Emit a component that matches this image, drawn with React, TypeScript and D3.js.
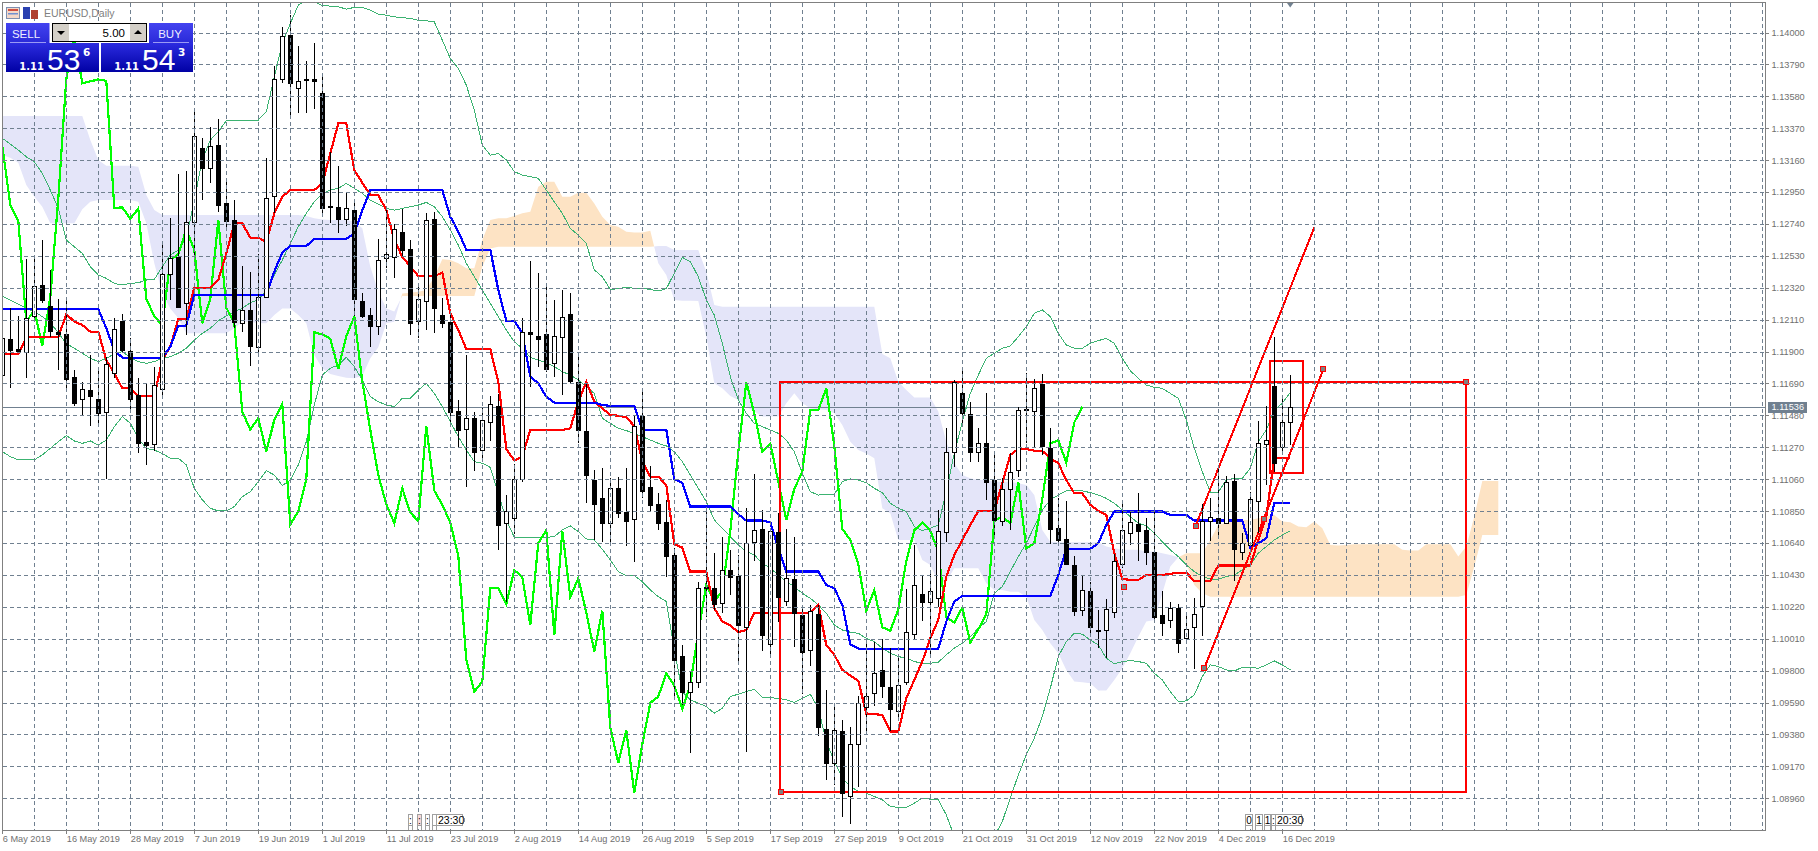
import * as d3 from "d3"
import { useEffect, useRef } from "react"

// all quotes are in points: 111536 means 1.11536
const symbolTitle = "EURUSD,Daily"
const dateLabels = ["6 May 2019", "16 May 2019", "28 May 2019", "7 Jun 2019", "19 Jun 2019", "1 Jul 2019", "11 Jul 2019", "23 Jul 2019", "2 Aug 2019", "14 Aug 2019", "26 Aug 2019", "5 Sep 2019", "17 Sep 2019", "27 Sep 2019", "9 Oct 2019", "21 Oct 2019", "31 Oct 2019", "12 Nov 2019", "22 Nov 2019", "4 Dec 2019", "16 Dec 2019"]
const dateBars = [0, 8, 16, 24, 32, 40, 48, 56, 64, 72, 80, 88, 96, 104, 112, 120, 128, 136, 144, 152, 160]
const priceTicks = [114000, 113790, 113580, 113370, 113160, 112950, 112740, 112530, 112320, 112110, 111900, 111690, 111480, 111270, 111060, 110850, 110640, 110430, 110220, 110010, 109800, 109590, 109380, 109170, 108960]
const lastPrice = 111536

const opens = [
  111746, 111983, 111915, 111900, 112137, 112338, 112200, 112027, 112013, 111731,
  111590, 111645, 111586, 111505, 111757, 112101, 111904, 111614, 111307, 111290,
  111652, 112408, 112524, 112217, 112750, 113237, 113110, 113259, 112877, 112766,
  112090, 112173, 111932, 112261, 112926, 113695, 113983, 113636, 113691, 113693,
  113599, 112856, 112851, 112770, 112831, 112233, 112140, 112070, 112518, 112525,
  112687, 112573, 112104, 112235, 112772, 112140, 112095, 111509, 111388, 111465,
  111255, 111439, 111542, 110774, 110803, 111060, 112027, 112000, 112013, 111823,
  111994, 112147, 111700, 111378, 111055, 110935, 110770, 111000, 110842, 110796,
  111476, 111007, 110895, 110776, 110561, 109897, 109662, 109728, 110349, 110342,
  110248, 110463, 110423, 110090, 110649, 110733, 109978, 110715, 110261, 110404,
  110167, 109935, 110173, 109417, 109191, 109404, 108972, 109316, 109559, 109652,
  109805, 109694, 109535, 109728, 110044, 110305, 110250, 110277, 110711, 111237,
  111625, 111487, 111241, 111296, 111055, 110788, 110994, 111118, 111523, 111511,
  111687, 111264, 110737, 110665, 110496, 110198, 110325, 110068, 110066, 110189,
  110501, 110704, 110763, 110726, 110583, 110167, 110132, 110213, 110013, 110086,
  110228, 110788, 110803, 110770, 111049, 110584, 110630, 110919, 111294, 111674,
  111274, 111434,
]
const closes = [
  111987, 111911, 111904, 112119, 112331, 112239, 112037, 112013, 111722, 111564,
  111652, 111610, 111498, 111816, 112046, 111911, 111588, 111301, 111285, 111680,
  112408, 112513, 112195, 112750, 113318, 113110, 113252, 112866, 112761, 112097,
  112173, 111937, 112257, 112908, 113693, 113976, 113665, 113678, 113691, 113682,
  112845, 112849, 112774, 112842, 112246, 112134, 112070, 112502, 112540, 112704,
  112568, 112086, 112244, 112766, 112189, 112086, 111505, 111386, 111463, 111241,
  111450, 111555, 110761, 110849, 111060, 112027, 112013, 111985, 111785, 112002,
  112130, 111706, 111384, 111088, 110895, 110770, 111000, 110840, 110785, 111410,
  110985, 110891, 110774, 110557, 109870, 109662, 109728, 110342, 110342, 110239,
  110461, 110417, 110101, 110639, 110724, 110035, 110720, 110285, 110408, 110182,
  109926, 110195, 109426, 109193, 109408, 108994, 109316, 109588, 109630, 109783,
  109702, 109548, 109707, 110053, 110362, 110255, 110325, 110718, 111241, 111698,
  111494, 111241, 111296, 111044, 110792, 110996, 111110, 111516, 111516, 111658,
  111281, 110733, 110661, 110501, 110195, 110329, 110086, 110062, 110204, 110522,
  110724, 110776, 110722, 110583, 110153, 110116, 110215, 109985, 110072, 110171,
  110785, 110814, 110770, 111040, 110604, 110639, 110928, 111296, 111316, 111169,
  111434, 111536,
]
const highs = [
  111987, 112184, 112134, 112507, 112535, 112634, 112437, 112246, 112239, 111779,
  111702, 111877, 111801, 111866, 112119, 112147, 111987, 111724, 111691, 111801,
  112623, 112776, 113068, 113088, 113478, 113303, 113380, 113430, 113036, 112897,
  112463, 112426, 112540, 113172, 113781, 114038, 114114, 113910, 113811, 113932,
  113708, 113215, 113123, 112952, 112875, 112283, 112184, 112640, 112853, 112739,
  112838, 112634, 112334, 112810, 112821, 112250, 112152, 111581, 111877, 111505,
  111527, 111608, 111618, 110956, 111160, 112119, 112496, 112415, 112353, 112239,
  112305, 112283, 111899, 111691, 111121, 111132, 111071, 111077, 111132, 111483,
  111636, 111150, 110972, 110924, 110605, 109970, 109794, 110382, 110851, 110573,
  110678, 110594, 110561, 110869, 111092, 110858, 110726, 110836, 110733, 110678,
  110233, 110233, 110233, 109673, 109586, 109476, 109432, 109636, 109996, 109991,
  110007, 109952, 109893, 110338, 110627, 110430, 110463, 110858, 111395, 111713,
  111790, 111566, 111395, 111625, 111231, 111066, 111231, 111533, 111757, 111720,
  111753, 111400, 110934, 110917, 110555, 110430, 110386, 110200, 110272, 110566,
  110895, 110851, 110968, 110807, 110880, 110325, 110255, 110237, 110178, 110281,
  110897, 110939, 111154, 111081, 111095, 110704, 110974, 111443, 111542, 111994,
  111585, 111746,
]
const lows = [
  111669, 111663, 111888, 111728, 112097, 112222, 111998, 111779, 111658, 111542,
  111483, 111411, 111428, 111062, 111724, 111888, 111516, 111235, 111154, 111248,
  111592, 112239, 112190, 112009, 112513, 112897, 113007, 112820, 112700, 112053,
  112031, 111805, 111862, 112257, 112810, 113665, 113434, 113467, 113467, 113496,
  112803, 112744, 112682, 112726, 112134, 112119, 111932, 112009, 112448, 112382,
  112524, 112009, 111987, 112042, 112024, 112053, 111439, 111268, 111011, 111114,
  111176, 111314, 110595, 110255, 110698, 111044, 111670, 111801, 111768, 111735,
  111614, 111691, 111296, 110902, 110660, 110650, 110645, 110803, 110623, 110513,
  110939, 110851, 110726, 110419, 109614, 109575, 109261, 109684, 110156, 110200,
  110178, 110299, 109842, 109267, 110522, 109930, 109893, 110123, 110226, 109958,
  109645, 109833, 109373, 109081, 109048, 108840, 108790, 109037, 109406, 109570,
  109618, 109404, 109487, 109707, 110002, 110127, 109904, 110222, 110650, 111143,
  111428, 111176, 111176, 110924, 110682, 110755, 110726, 111077, 111296, 111274,
  111220, 110632, 110632, 110496, 110162, 110162, 110020, 109952, 109886, 110145,
  110478, 110627, 110522, 110496, 110123, 110031, 110079, 109919, 109996, 109809,
  110025, 110656, 110665, 110766, 110393, 110529, 110628, 110704, 111022, 111110,
  111219, 111285,
]

// ichimoku
const tenkan = [
  111884, 111884, 111884, 111994, 111994, 111994, 111994, 111994, 112147, 112097,
  112075, 112031, 112031, 111845, 111757, 111658, 111658, 111608, 111608, 111608,
  111845, 111932, 112114, 112114, 112320, 112320, 112320, 112371, 112546, 112744,
  112744, 112650, 112650, 112623, 112810, 112919, 112963, 112963, 112963, 112963,
  113007, 113204, 113402, 113402, 113094, 113011, 112930, 112930, 112831, 112634,
  112524, 112459, 112397, 112397, 112397, 112419, 112152, 112042, 111917, 111917,
  111917, 111917, 111702, 111259, 111183, 111209, 111384, 111384, 111384, 111384,
  111384, 111395, 111570, 111702, 111570, 111527, 111483, 111478, 111467, 111410,
  111176, 111077, 111077, 111022, 110634, 110610, 110452, 110452, 110452, 110211,
  110123, 110097, 110053, 110068, 110180, 110180, 110180, 110180, 110180, 110180,
  110180, 110180, 110233, 109970, 109904, 109805, 109768, 109733, 109518, 109514,
  109509, 109400, 109400, 109619, 109739, 109860, 110013, 110134, 110419, 110561,
  110660, 110759, 110851, 110851, 110851, 111033, 111220, 111259, 111259, 111248,
  111246, 111198, 111165, 111055, 110967, 110967, 110891, 110851, 110825, 110573,
  110404, 110397, 110397, 110430, 110430, 110430, 110437, 110445, 110445, 110390,
  110390, 110390, 110492, 110492, 110492, 110492, 110492, 110660, 110814, 111202,
  111202, 111202,
]
const kijun = [
  112180, 112180, 112180, 112180, 112180, 112180, 112180, 112180, 112180, 112180,
  112180, 112180, 112180, 112053, 111910, 111860, 111860, 111860, 111860, 111860,
  111860, 111932, 112071, 112071, 112272, 112272, 112272, 112272, 112272, 112272,
  112272, 112272, 112272, 112272, 112426, 112553, 112594, 112594, 112594, 112643,
  112643, 112643, 112643, 112643, 112678, 112831, 112963, 112963, 112963, 112963,
  112963, 112963, 112963, 112963, 112963, 112963, 112788, 112689, 112570, 112570,
  112570, 112570, 112305, 112103, 112103, 112020, 111735, 111691, 111603, 111564,
  111564, 111564, 111564, 111564, 111564, 111549, 111542, 111542, 111542, 111542,
  111386, 111386, 111386, 111386, 111059, 111037, 110880, 110880, 110880, 110880,
  110880, 110880, 110829, 110788, 110788, 110788, 110777, 110606, 110452, 110452,
  110452, 110452, 110452, 110364, 110342, 110233, 109974, 109945, 109945, 109945,
  109945, 109945, 109945, 109945, 109945, 109945, 109945, 109945, 110123, 110255,
  110292, 110292, 110292, 110292, 110292, 110292, 110292, 110292, 110292, 110292,
  110292, 110292, 110430, 110601, 110601, 110601, 110601, 110639, 110759, 110847,
  110847, 110847, 110847, 110847, 110847, 110847, 110825, 110825, 110825, 110788,
  110788, 110788, 110788, 110788, 110788, 110788, 110610, 110639, 110671, 110906,
  110906, 110906,
]
const chikou = [
  113252, 112866, 112761, 112097, 112173, 111937, 112257, 112908, 113693, 113976,
  113665, 113678, 113691, 113682, 112845, 112849, 112774, 112842, 112246, 112134,
  112070, 112502, 112540, 112704, 112568, 112086, 112244, 112766, 112189, 112086,
  111505, 111386, 111463, 111241, 111450, 111555, 110761, 110849, 111060, 112027,
  112013, 111985, 111785, 112002, 112130, 111706, 111384, 111088, 110895, 110770,
  111000, 110840, 110785, 111410, 110985, 110891, 110774, 110557, 109870, 109662,
  109728, 110342, 110342, 110239, 110461, 110417, 110101, 110639, 110724, 110035,
  110720, 110285, 110408, 110182, 109926, 110195, 109426, 109193, 109408, 108994,
  109316, 109588, 109630, 109783, 109702, 109548, 109707, 110053, 110362, 110255,
  110325, 110718, 111241, 111698, 111494, 111241, 111296, 111044, 110792, 110996,
  111110, 111516, 111516, 111658, 111281, 110733, 110661, 110501, 110195, 110329,
  110086, 110062, 110204, 110522, 110724, 110776, 110722, 110583, 110153, 110116,
  110215, 109985, 110072, 110171, 110785, 110814, 110770, 111040, 110604, 110639,
  110928, 111296, 111316, 111169, 111434, 111536,
]
const senkouA = [
  113193, 113176, 113143, 112996, 112919, 112853, 112744, 112744, 112744, 112744,
  112836, 112886, 112897, 112897, 112897, 112897, 112897, 112886, 112744, 112481,
  112283, 112184, 112119, 112020, 112020, 112020, 112020, 112020, 112020, 112053,
  112097, 112097, 112086, 112086, 112140, 112184, 112184, 112140, 112086, 111877,
  111790, 111753, 111739, 111728, 111724, 111739, 111856, 111928, 112086, 112097,
  112283, 112288, 112294, 112305, 112393, 112507, 112502, 112481, 112448, 112448,
  112634, 112766, 112777, 112777, 112792, 112810, 112821, 112985, 113018, 113018,
  112919, 112919, 112945, 112945, 112875, 112788, 112733, 112722, 112689, 112684,
  112684, 112695, 112481, 112404, 112239, 112235, 112235, 112233, 111998, 111691,
  111658, 111608, 111581, 111538, 111505, 111472, 111472, 111472, 111560, 111625,
  111560, 111527, 111520, 111516, 111494, 111417, 111307, 111252, 111230, 111198,
  110869, 110836, 110660, 110660, 110660, 110529, 110496, 110386, 110386, 110474,
  110474, 110474, 110474, 110375, 110331, 110331, 110320, 110320, 110287, 110134,
  110068, 109981, 109915, 109805, 109728, 109724, 109717, 109669, 109669, 109739,
  109816, 109915, 110024, 110123, 110134, 110309, 110485, 110546, 110573, 110573,
  110573, 110660, 110759, 110774, 110785, 110792, 110792, 110803, 110814, 110825,
  110781, 110777, 110748, 110744, 110781, 110737, 110627, 110623, 110627, 110632,
  110632, 110632, 110632, 110632, 110632, 110595, 110591, 110591, 110632, 110632,
  110632, 110632, 110551, 110617, 110814, 111049, 111049, 111049,
]
const senkouB = [
  113450, 113450, 113450, 113450, 113450, 113450, 113450, 113450, 113450, 113450,
  113450, 113292, 113161, 113123, 113123, 113123, 113123, 113116, 112930, 112831,
  112799, 112799, 112799, 112799, 112799, 112799, 112799, 112799, 112799, 112799,
  112799, 112799, 112799, 112799, 112799, 112799, 112799, 112799, 112792, 112777,
  112770, 112766, 112766, 112766, 112755, 112711, 112459, 112294, 112184, 112163,
  112266, 112266, 112266, 112266, 112266, 112266, 112266, 112266, 112266, 112266,
  112459, 112579, 112590, 112590, 112590, 112590, 112590, 112590, 112590, 112590,
  112590, 112590, 112590, 112590, 112590, 112590, 112590, 112590, 112590, 112590,
  112590, 112590, 112595, 112595, 112568, 112568, 112568, 112568, 112426, 112206,
  112195, 112195, 112195, 112195, 112195, 112195, 112195, 112195, 112195, 112195,
  112195, 112195, 112195, 112195, 112195, 112195, 112195, 112195, 112195, 112195,
  111884, 111856, 111702, 111647, 111597, 111597, 111597, 111505, 111307, 111165,
  111088, 111066, 111055, 111055, 111044, 111044, 111044, 111033, 111022, 110956,
  110726, 110649, 110645, 110645, 110645, 110645, 110645, 110645, 110617, 110606,
  110595, 110595, 110595, 110584, 110584, 110573, 110562, 110547, 110507, 110364,
  110309, 110287, 110287, 110287, 110287, 110287, 110287, 110287, 110287, 110287,
  110287, 110287, 110287, 110287, 110287, 110287, 110287, 110287, 110287, 110287,
  110287, 110287, 110287, 110287, 110287, 110287, 110287, 110287, 110287, 110287,
  110287, 110287, 110287, 110298, 110485, 110693, 110693, 110693,
]

// bollinger bands
const bandUpper = [
  113304, 113266, 113226, 113182, 113149, 113073, 112963, 112842, 112634, 112590,
  112546, 112459, 112404, 112382, 112349, 112338, 112349, 112353, 112371, 112375,
  112459, 112535, 112568, 112645, 112897, 113161, 113292, 113347, 113419, 113424,
  113424, 113424, 113424, 113478, 113708, 113928, 114059, 114180, 114213, 114202,
  114176, 114174, 114169, 114154, 114165, 114165, 114147, 114121, 114114, 114103,
  114099, 114092, 114081, 114077, 114070, 113950, 113829, 113763, 113654, 113489,
  113259, 113193, 113204, 113161, 113084, 113062, 113051, 113040, 112963, 112886,
  112810, 112711, 112667, 112612, 112437, 112393, 112309, 112314, 112323, 112316,
  112316, 112309, 112299, 112314, 112415, 112520, 112492, 112393, 112239, 112140,
  111954, 111735, 111581, 111494, 111428, 111406, 111384, 111362, 111318, 111241,
  111099, 110978, 110956, 110958, 110961, 111044, 111062, 111055, 111037, 111000,
  110972, 110902, 110869, 110847, 110748, 110722, 110737, 110759, 110978, 111231,
  111439, 111625, 111746, 111856, 111889, 111922, 111937, 111998, 112064, 112152,
  112174, 112130, 112020, 111943, 111922, 111922, 111954, 111972, 111987, 111954,
  111856, 111774, 111724, 111680, 111665, 111658, 111625, 111592, 111450, 111264,
  111110, 110974, 110974, 111055, 111066, 111066, 111132, 111307, 111384, 111516,
  111560, 111630,
]
const bandMiddle = [
  112266, 112239, 112213, 112184, 112163, 112130, 112090, 112024, 111954, 111922,
  111889, 111856, 111834, 111856, 111884, 111900, 111862, 111834, 111823, 111834,
  111856, 111866, 111889, 111922, 111976, 112020, 112053, 112103, 112134, 112163,
  112184, 112222, 112239, 112305, 112404, 112502, 112612, 112722, 112810, 112886,
  112937, 112963, 112974, 113007, 112974, 112941, 112897, 112871, 112842, 112831,
  112842, 112853, 112864, 112882, 112853, 112788, 112700, 112601, 112481, 112393,
  112305, 112217, 112130, 112042, 111965, 111922, 111862, 111845, 111827, 111801,
  111768, 111746, 111713, 111669, 111625, 111461, 111428, 111395, 111380, 111362,
  111340, 111318, 111296, 111279, 111241, 111176, 111088, 111000, 110913, 110792,
  110737, 110682, 110627, 110584, 110562, 110507, 110474, 110430, 110386, 110353,
  110309, 110276, 110233, 110178, 110101, 110068, 110053, 110046, 110013, 109991,
  109948, 109915, 109893, 109882, 109860, 109849, 109849, 109856, 109904, 109948,
  109981, 110024, 110079, 110123, 110309, 110353, 110452, 110551, 110639, 110748,
  110858, 110924, 110956, 110983, 110983, 110983, 110972, 110956, 110934, 110902,
  110858, 110814, 110770, 110753, 110704, 110649, 110595, 110551, 110496, 110452,
  110419, 110402, 110402, 110419, 110430, 110463, 110496, 110573, 110617, 110660,
  110693, 110720,
]
const bandLower = [
  111241, 111209, 111187, 111187, 111187, 111220, 111263, 111307, 111347, 111312,
  111296, 111312, 111285, 111318, 111406, 111472, 111428, 111329, 111263, 111252,
  111230, 111198, 111198, 111154, 111000, 110924, 110869, 110851, 110851, 110880,
  110945, 110978, 111044, 111116, 111088, 111018, 111055, 111154, 111307, 111549,
  111746, 111790, 111812, 111862, 111801, 111713, 111603, 111570, 111549, 111538,
  111592, 111592, 111647, 111691, 111625, 111538, 111439, 111340, 111252, 111176,
  111165, 111138, 110967, 110792, 110678, 110676, 110676, 110676, 110678, 110682,
  110726, 110753, 110715, 110667, 110660, 110599, 110529, 110452, 110426, 110426,
  110386, 110331, 110287, 110255, 109937, 109662, 109608, 109586, 109564, 109520,
  109553, 109630, 109645, 109662, 109678, 109625, 109621, 109619, 109608, 109592,
  109619, 109645, 109553, 109334, 109202, 109093, 109038, 109005, 108994, 108972,
  108950, 108906, 108900, 108900, 108928, 108961, 108954, 108950, 108851, 108709,
  108599, 108533, 108533, 108643, 108709, 108807, 108961, 109114, 109246, 109356,
  109498, 109684, 109893, 109991, 110046, 110040, 110002, 109970, 109882, 109845,
  109860, 109866, 109860, 109849, 109783, 109739, 109662, 109596, 109601, 109640,
  109761, 109838, 109827, 109805, 109798, 109822, 109822, 109816, 109838, 109864,
  109838, 109805,
]

// drawn objects: [bar, price] anchors
const boxAnchors = [[97.2, 111698], [183, 109002]]
const smallBoxAnchors = [[158.4, 111840], [162.6, 111101]]
const channelLower = [[150.25, 109816], [165.14, 111783]]
const channelUpper = [[149.15, 110752], [164, 112717]]
const handleAnchors = [[97.3, 109000], [183, 111698], [150.25, 109816], [165.14, 111783], [149.15, 110752], [157.7, 110796], [140.15, 110349]]

const TEXT_GREY = "#6f6f6f"
const FRAME_GREY = "#808080"
const GRID_COLOR = "#708090"
const LAVENDER = "#e4e5f9"
const PEACH = "#fde3c4"
const BAND_COLOR = "#3cb371"
const FONT = "'Liberation Sans', Arial, sans-serif"

const plot = { left: 2.5, right: 1765.5, top: 2.5, bottom: 830.5 }

export default function App() {
  const svgRef = useRef<SVGSVGElement | null>(null)

  useEffect(() => {
    if (!svgRef.current) return
    const svg = d3.select(svgRef.current)
    svg.selectAll("*").remove()

    const x = d3.scaleLinear().domain([0, 220]).range([2.3, 1762.3])
    const y = d3.scaleLinear().domain([108960, 114000]).range([798.3, 32.5])

    const defs = svg.append("defs")
    defs.append("clipPath").attr("id", "plot-clip").append("rect")
      .attr("x", plot.left).attr("y", plot.top)
      .attr("width", plot.right - plot.left).attr("height", plot.bottom - plot.top)
    const addGradient = (id: string, from: string, to: string) => {
      const g = defs.append("linearGradient").attr("id", id).attr("x1", 0).attr("y1", 0).attr("x2", 0).attr("y2", 1)
      g.append("stop").attr("offset", 0).attr("stop-color", from)
      g.append("stop").attr("offset", 1).attr("stop-color", to)
    }
    addGradient("btn-top", "#4343f0", "#2a2ad8")
    addGradient("btn-bottom", "#2c2ce0", "#0000a4")

    const chart = svg.append("g").attr("clip-path", "url(#plot-clip)")

    // Cloud, with the crossing points added so both colours meet
    const cloud: { i: number; a: number; b: number }[] = []
    senkouA.forEach((a, i) => {
      const b = senkouB[i]
      cloud.push({ i, a, b })
      if (i < senkouA.length - 1) {
        const d0 = a - b
        const d1 = senkouA[i + 1] - senkouB[i + 1]
        if (d0 * d1 < 0) {
          const t = d0 / (d0 - d1)
          const v = a + (senkouA[i + 1] - a) * t
          cloud.push({ i: i + t, a: v, b: v })
        }
      }
    })
    const cloudArea = (test: (d: { a: number; b: number }) => boolean) =>
      d3.area<{ i: number; a: number; b: number }>()
        .defined(test)
        .x((d) => x(d.i))
        .y0((d) => y(d.a))
        .y1((d) => y(d.b))
    chart.append("path").attr("d", cloudArea((d) => d.a <= d.b)(cloud)).attr("fill", LAVENDER)
    chart.append("path").attr("d", cloudArea((d) => d.a >= d.b)(cloud)).attr("fill", PEACH)

    // Grid
    const grid = svg.append("g").attr("stroke", GRID_COLOR).attr("stroke-dasharray", "4,3").attr("shape-rendering", "crispEdges")
    grid.selectAll("line.h").data(priceTicks).enter().append("line")
      .attr("x1", plot.left).attr("x2", plot.right)
      .attr("y1", (d) => Math.round(y(d)) + 0.5).attr("y2", (d) => Math.round(y(d)) + 0.5)
    grid.selectAll("line.v").data(d3.range(4, 221, 4)).enter().append("line")
      .attr("y1", plot.top).attr("y2", plot.bottom)
      .attr("x1", (d) => Math.round(x(d)) + 0.5).attr("x2", (d) => Math.round(x(d)) + 0.5)

    // Current price line
    chart.append("line")
      .attr("x1", plot.left).attr("x2", plot.right)
      .attr("y1", Math.round(y(lastPrice)) + 0.5).attr("y2", Math.round(y(lastPrice)) + 0.5)
      .attr("stroke", GRID_COLOR).attr("shape-rendering", "crispEdges")

    // Indicator lines
    const line = d3.line<number>().x((_, i) => x(i)).y((d) => y(d))
    const drawLine = (values: number[], color: string, width: number) =>
      chart.append("path").attr("d", line(values)).attr("fill", "none")
        .attr("stroke", color).attr("stroke-width", width).attr("shape-rendering", "crispEdges")
    drawLine(bandUpper, BAND_COLOR, 1)
    drawLine(bandMiddle, BAND_COLOR, 1)
    drawLine(bandLower, BAND_COLOR, 1)
    drawLine(chikou, "#00ff00", 2.2)
    drawLine(tenkan, "#ff0000", 2.2)
    drawLine(kijun, "#0000ff", 2.2)

    // Drawn objects
    const objects = chart.append("g").attr("fill", "none").attr("stroke", "#ff0000").attr("stroke-width", 2)
    const box = (pts: number[][]) =>
      objects.append("rect")
        .attr("x", x(pts[0][0])).attr("y", y(pts[0][1]))
        .attr("width", x(pts[1][0]) - x(pts[0][0])).attr("height", y(pts[1][1]) - y(pts[0][1]))
        .attr("shape-rendering", "crispEdges")
    box(boxAnchors)
    box(smallBoxAnchors)
    const seg = (pts: number[][]) =>
      objects.append("line")
        .attr("x1", x(pts[0][0])).attr("y1", y(pts[0][1]))
        .attr("x2", x(pts[1][0])).attr("y2", y(pts[1][1]))
        .attr("shape-rendering", "crispEdges")
    seg(channelLower)
    seg(channelUpper)

    // Candles sit on top of the lines
    const candles = chart.append("g").attr("shape-rendering", "crispEdges")
    opens.forEach((open, i) => {
      const close = closes[i]
      const px = Math.round(x(i))
      candles.append("line")
        .attr("x1", px + 0.5).attr("x2", px + 0.5)
        .attr("y1", y(highs[i])).attr("y2", y(lows[i]))
        .attr("stroke", "#000")
      const top = Math.round(y(Math.max(open, close)))
      const bottom = Math.round(y(Math.min(open, close)))
      candles.append("rect")
        .attr("x", px - 1.5).attr("width", 4)
        .attr("y", top + 0.5).attr("height", Math.max(bottom - top, 1))
        .attr("fill", close >= open ? "#fff" : "#000")
        .attr("stroke", "#000")
    })

    // Object handles
    chart.append("g").selectAll("rect").data(handleAnchors).enter().append("rect")
      .attr("x", (d) => Math.round(x(d[0])) - 2.5).attr("y", (d) => Math.round(y(d[1])) - 2.5)
      .attr("width", 5).attr("height", 5)
      .attr("fill", "#808080").attr("stroke", "#ff0000")
      .attr("shape-rendering", "crispEdges")

    // Frame
    svg.append("path")
      .attr("d", `M${plot.left},${plot.bottom}V${plot.top}H${plot.right}V${plot.bottom}H${plot.left}`)
      .attr("fill", "none").attr("stroke", FRAME_GREY).attr("shape-rendering", "crispEdges")

    // Axes
    const yAxis = svg.append("g").attr("transform", `translate(${plot.right},0)`)
      .call(d3.axisRight(y).tickValues(priceTicks).tickSize(3).tickFormat((d) => (+d / 100000).toFixed(5)))
    yAxis.select(".domain").remove()
    yAxis.selectAll("line").attr("stroke", FRAME_GREY).attr("shape-rendering", "crispEdges")
    yAxis.selectAll("text").attr("x", 6).style("font", `9.2px ${FONT}`).attr("fill", TEXT_GREY)

    const xAxis = svg.append("g").attr("transform", `translate(0,${plot.bottom})`)
      .call(d3.axisBottom(x).tickValues(dateBars).tickSize(3).tickFormat((_, i) => dateLabels[i]))
    xAxis.select(".domain").remove()
    xAxis.selectAll("line").attr("stroke", FRAME_GREY).attr("shape-rendering", "crispEdges")
    xAxis.selectAll("text").attr("text-anchor", "start").attr("y", 5).style("font", `9.2px ${FONT}`).attr("fill", TEXT_GREY)

    // Last price tag
    const tag = svg.append("g")
    tag.append("rect").attr("x", 1768).attr("y", Math.round(y(lastPrice)) - 5).attr("width", 39).attr("height", 11).attr("fill", GRID_COLOR)
    tag.append("text").attr("x", 1771.5).attr("y", y(lastPrice) + 3.5).text((lastPrice / 100000).toFixed(5))
      .attr("fill", "#fff").style("font", `9.2px ${FONT}`)

    // Shift marker at the top
    svg.append("path").attr("d", "M1287,3H1293.5L1290.2,7.5Z").attr("fill", GRID_COLOR)

    // Time markers above the date axis
    const timeMarker = (bx: number[][], chars: string[], fills: string[], pentagon: number[], label: string) => {
      const g = svg.append("g")
      bx.forEach((b, i) => {
        g.append("rect").attr("x", b[0] + 0.5).attr("y", 814.5).attr("width", b[1] - b[0]).attr("height", 11)
          .attr("fill", fills[i]).attr("stroke", "#a0a0a0").attr("shape-rendering", "crispEdges")
        g.append("path").attr("d", `M${b[0] + 0.5},825V830M${b[1] + 0.5},825V830`)
          .attr("stroke", "#a0a0a0").attr("shape-rendering", "crispEdges")
        g.append("text").attr("x", (b[0] + b[1]) / 2 + 0.5).attr("y", 823.5).attr("text-anchor", "middle").text(chars[i])
          .style("font", `10px ${FONT}`).attr("fill", "#000")
      })
      g.append("path")
        .attr("d", `M${pentagon[0]},814.5H${pentagon[1] - 3}L${pentagon[1]},820L${pentagon[1] - 3},825.5H${pentagon[0]}Z`)
        .attr("fill", "#fff").attr("stroke", "#a0a0a0").attr("shape-rendering", "crispEdges")
      g.append("text").attr("x", pentagon[0] + 1.5).attr("y", 824).text(label).style("font", `10.5px ${FONT}`).attr("fill", "#000")
    }
    timeMarker([[408, 412], [417, 421], [425, 429], [432, 436]], [":", ":", ":", ""], ["#fff", "#f8d8d8", "#fff", "#fff"], [436.5, 465], "23:30")
    timeMarker([[1245, 1252], [1255, 1262], [1264, 1270], [1271, 1275]], ["0", "1", "1", ":"], ["#fff", "#fff", "#fff", "#fff"], [1275.5, 1304], "20:30")

    // One click trading panel
    const panel = svg.append("g")
    panel.append("rect").attr("x", 6.5).attr("y", 7.5).attr("width", 13).attr("height", 11).attr("fill", "#f4d8c8").attr("stroke", "#7d8fb0")
    panel.append("rect").attr("x", 8).attr("y", 9).attr("width", 10).attr("height", 2).attr("fill", "#d05040")
    panel.append("rect").attr("x", 8).attr("y", 13).attr("width", 10).attr("height", 1.5).attr("fill", "#7090d0")
    panel.append("rect").attr("x", 23).attr("y", 7).attr("width", 7).attr("height", 12).attr("fill", "#2a40b0")
    panel.append("rect").attr("x", 31).attr("y", 10).attr("width", 7).attr("height", 9).attr("fill", "#b04030")
    panel.append("text").attr("x", 44).attr("y", 17).text(symbolTitle).attr("fill", "#808080").style("font", `10.5px ${FONT}`)

    panel.append("rect").attr("x", 6).attr("y", 23).attr("width", 43.5).attr("height", 20).attr("fill", "url(#btn-top)")
    panel.append("rect").attr("x", 149).attr("y", 23).attr("width", 44).attr("height", 20).attr("fill", "url(#btn-top)")
    panel.append("rect").attr("x", 6).attr("y", 43).attr("width", 93).attr("height", 29).attr("fill", "url(#btn-bottom)")
    panel.append("rect").attr("x", 101).attr("y", 43).attr("width", 92).attr("height", 29).attr("fill", "url(#btn-bottom)")
    panel.append("rect").attr("x", 52.5).attr("y", 23.5).attr("width", 94).attr("height", 18).attr("fill", "#fff").attr("stroke", "#000")
    panel.append("rect").attr("x", 53).attr("y", 24).attr("width", 16).attr("height", 17).attr("fill", "#d4d0c8")
    panel.append("rect").attr("x", 130).attr("y", 24).attr("width", 16).attr("height", 17).attr("fill", "#d4d0c8")
    panel.append("path").attr("d", "M57,31H65L61,35Z").attr("fill", "#000")
    panel.append("path").attr("d", "M134,34H142L138,30Z").attr("fill", "#000")
    panel.append("text").attr("x", 125).attr("y", 37).attr("text-anchor", "end").text("5.00").attr("fill", "#000").style("font", `11.5px ${FONT}`)
    panel.append("text").attr("x", 26).attr("y", 38).attr("text-anchor", "middle").text("SELL").attr("fill", "#eef").style("font", `11.5px ${FONT}`)
    panel.append("text").attr("x", 170).attr("y", 38).attr("text-anchor", "middle").text("BUY").attr("fill", "#eef").style("font", `11.5px ${FONT}`)
    panel.append("line").attr("x1", 10).attr("x2", 46).attr("y1", 42.5).attr("y2", 42.5).attr("stroke", "#9a9af5")
    panel.append("line").attr("x1", 153).attr("x2", 189).attr("y1", 42.5).attr("y2", 42.5).attr("stroke", "#9a9af5")

    const quote = (figureX: number, small: string, big: string, tail: string) => {
      panel.append("text").attr("x", figureX - 3).attr("y", 70).attr("text-anchor", "end").text(small)
        .attr("fill", "#fff").style("font", `bold 10px 'DejaVu Sans', sans-serif`)
      panel.append("text").attr("x", figureX).attr("y", 70).text(big)
        .attr("fill", "#fff").style("font", `30px ${FONT}`)
      panel.append("text").attr("x", figureX + 36).attr("y", 56).text(tail)
        .attr("fill", "#fff").style("font", `bold 10.5px 'DejaVu Sans', sans-serif`)
    }
    quote(47, "1.11", "53", "6")
    quote(142, "1.11", "54", "3")
  }, [])

  return (
    <svg
      ref={svgRef}
      width={1818}
      height={851}
      style={{ position: "absolute", left: 0, top: 0, display: "block", background: "#fff" }}
    />
  )
}
